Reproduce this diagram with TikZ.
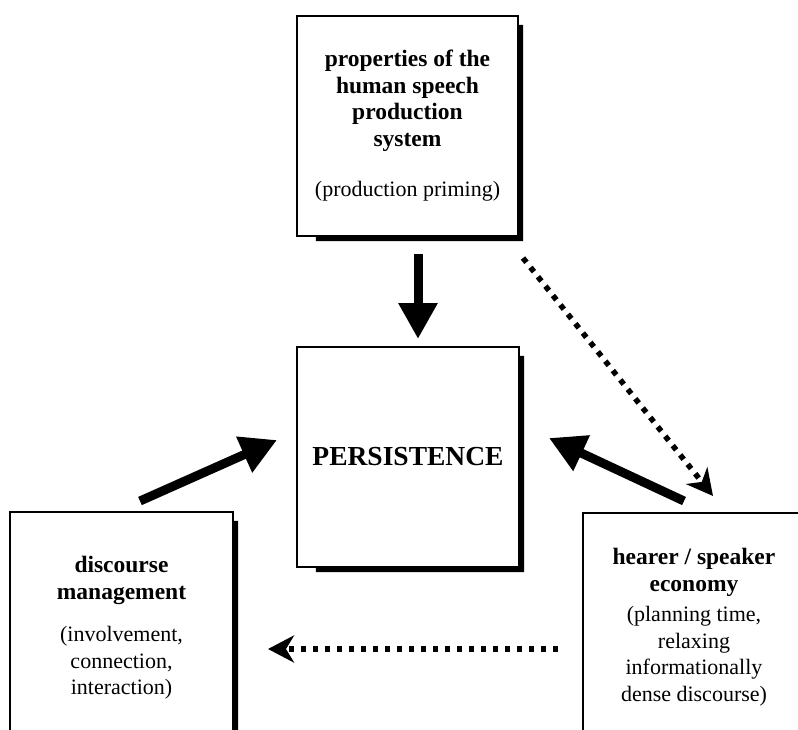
\documentclass[tikz,border=0pt]{standalone}
\usepackage{fontspec}
\setmainfont{Liberation Serif}
\usetikzlibrary{arrows.meta}
\newcommand{\titlefont}{\fontsize{23.5}{26.5}\selectfont\bfseries}
\begin{document}
\begin{tikzpicture}[x=1pt,y=-1pt,
    box/.style={draw,line width=2.2pt,fill=white,align=center,
        font=\fontsize{22}{26.5}\selectfont},
    push/.style={line width=9pt,-{Triangle[length=36pt,width=37pt]}},
    hint/.style={line width=5.5pt,dash pattern=on 5.5pt off 6.5pt,
        -{Stealth[length=26pt,width=27pt,inset=8pt]}}]
    % fix the page
    \useasboundingbox (0,0) rectangle (798,729);
    \clip (0,0) rectangle (798,729);
    % the boxes
    \node[box,minimum width=221pt,minimum height=220pt] (prop) at (407.5,126)
        {{\titlefont properties of the}\\{\titlefont human speech}\\{\titlefont production}\\{\titlefont system}\\[24pt]
         (production priming)};
    \node[box,minimum width=222pt,minimum height=220pt,
        font=\fontsize{27.5}{30}\selectfont\bfseries] (pers) at (408,457) {PERSISTENCE};
    \node[box,minimum width=223pt,minimum height=232pt] (disc) at (121.5,628)
        {{\titlefont discourse}\\{\titlefont management}\\[16pt]
         (involvement,\\connection,\\interaction)};
    \node[box,minimum width=222pt,minimum height=228pt] (econ) at (694,627)
        {{\titlefont hearer / speaker}\\{\titlefont economy}\\[4pt]
         (planning time,\\relaxing\\informationally\\dense discourse)};
    % shadows on the right and below
    \foreach \b in {prop,pers,disc,econ}
        \fill ([shift={(0,10)}]\b.north east) -- ++(4,0) |- ([shift={(20,4)}]\b.south west)
            -- ++(0,-4) -- (\b.south east) -- cycle;
    % ends of the arrows
    \coordinate (prop-out) at (418,254);
    \coordinate (pers-top) at (418,339);
    \coordinate (disc-out) at (140,501);
    \coordinate (pers-left) at (277,440);
    \coordinate (econ-out) at (684,501);
    \coordinate (pers-right) at (549,438);
    \coordinate (prop-side) at (523,258);
    \coordinate (econ-top) at (713,496);
    \coordinate (econ-side) at (558,649);
    \coordinate (disc-side) at (268,649);
    % solid arrows into the middle
    \draw[push] (prop-out) -- (pers-top);
    \draw[push] (disc-out) -- (pers-left);
    \draw[push] (econ-out) -- (pers-right);
    % dotted arrows
    \draw[hint] (prop-side) -- (econ-top);
    \draw[hint] (econ-side) -- (disc-side);
\end{tikzpicture}
\end{document}
